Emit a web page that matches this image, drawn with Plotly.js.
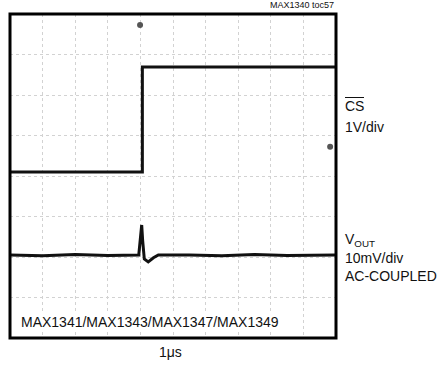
<!DOCTYPE html>
<html>
<head>
<meta charset="utf-8">
<script src="https://cdn.plot.ly/plotly-3.0.1.min.js"></script>
<style>html,body{margin:0;padding:0;background:#fff;}#chart{width:447px;height:372px;}</style>
</head>
<body>
<div id="chart"></div>
<script>
// Time axis in divisions (1 µs/div), vertical in divisions
const csTime = [0, 4.06, 4.06, 10];
const csLevel = [4.10, 4.10, 6.69, 6.69];
const voutTime = [0, 1.0, 2.0, 3.0, 3.95, 4.04, 4.07, 4.12, 4.24, 4.40, 4.55, 5.5, 6.5, 7.5, 8.5, 10];
const voutLevel = [2.05, 2.03, 2.06, 2.04, 2.05, 2.79, 2.40, 1.95, 1.88, 1.98, 2.05, 2.05, 2.03, 2.06, 2.04, 2.05];
const markerX = [3.99, 9.82];
const markerY = [7.73, 4.72];

const FONT = '"Liberation Sans", Arial, sans-serif';

const traces = [
  {x: csTime, y: csLevel, type: 'scatter', mode: 'lines', line: {color: '#111', width: 3}, hoverinfo: 'skip'},
  {x: voutTime, y: voutLevel, type: 'scatter', mode: 'lines', line: {color: '#111', width: 3}, hoverinfo: 'skip'},
  {x: markerX, y: markerY, type: 'scatter', mode: 'markers', marker: {color: '#555', size: 6, symbol: 'circle'}, hoverinfo: 'skip'}
];

const axisCommon = {
  showgrid: true, gridcolor: '#d2d2d2', griddash: 'dot', gridwidth: 1,
  zeroline: false, showticklabels: false, ticks: '', dtick: 1,
  showline: false, fixedrange: true
};

const layout = {
  width: 447, height: 372,
  margin: {l: 10, r: 111, t: 14, b: 34},
  paper_bgcolor: '#fff', plot_bgcolor: '#fff',
  showlegend: false,
  font: {family: FONT, color: '#111', size: 14},
  xaxis: Object.assign({range: [0, 10]}, axisCommon),
  yaxis: Object.assign({range: [0, 8]}, axisCommon),
  shapes: [
    {type: 'rect', xref: 'paper', yref: 'paper', x0: 0, x1: 1, y0: 0, y1: 1, line: {color: '#000', width: 3}},
    {type: 'line', xref: 'paper', yref: 'paper', x0: (345-10)/326, x1: (364-10)/326, y0: (338-97.5)/324, y1: (338-97.5)/324, line: {color: '#111', width: 1}}
  ],
  annotations: [
    {xref: 'paper', yref: 'paper', x: 1.0, y: (338-5)/324, xanchor: 'right', yanchor: 'middle', text: 'MAX1340 toc57', showarrow: false, font: {size: 9}},
    {xref: 'paper', yref: 'paper', x: (343-10)/326, y: (338-106)/324, xanchor: 'left', yanchor: 'middle', text: 'CS', showarrow: false},
    {xref: 'paper', yref: 'paper', x: (343-10)/326, y: (338-127)/324, xanchor: 'left', yanchor: 'middle', text: '1V/div', showarrow: false},
    {xref: 'paper', yref: 'paper', x: (343-10)/326, y: (338-240)/324, xanchor: 'left', yanchor: 'middle', text: 'V<sub>OUT</sub>', showarrow: false},
    {xref: 'paper', yref: 'paper', x: (343-10)/326, y: (338-258)/324, xanchor: 'left', yanchor: 'middle', text: '10mV/div', showarrow: false},
    {xref: 'paper', yref: 'paper', x: (343-10)/326, y: (338-276)/324, xanchor: 'left', yanchor: 'middle', text: 'AC-COUPLED', showarrow: false},
    {xref: 'paper', yref: 'paper', x: (19-10)/326, y: (338-322)/324, xanchor: 'left', yanchor: 'middle', text: 'MAX1341/MAX1343/MAX1347/MAX1349', showarrow: false, bgcolor: '#fff'},
    {xref: 'paper', yref: 'paper', x: (170-10)/326, y: (338-352)/324, xanchor: 'center', yanchor: 'middle', text: '1μs', showarrow: false}
  ]
};

Plotly.newPlot('chart', traces, layout, {staticPlot: true, displayModeBar: false});
</script>
</body>
</html>
